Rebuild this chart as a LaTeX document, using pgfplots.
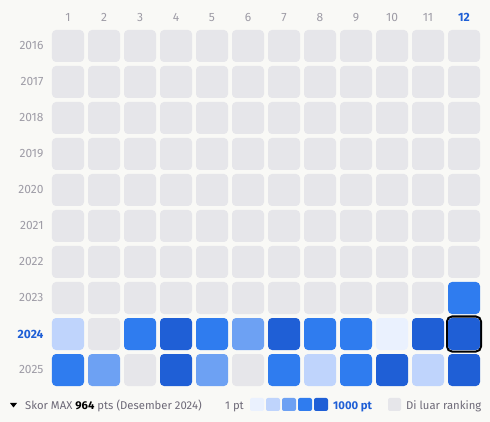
\documentclass[border=0pt]{standalone}
\usepackage{pgfplots}
\pgfplotsset{compat=1.18}
\usepackage{pgfplotstable}
\usepackage{fontspec}
\setmainfont{Fira Sans}
\definecolor{bg}{HTML}{F9F9F6}
\definecolor{cg}{HTML}{E6E6EA}
\definecolor{ca}{HTML}{EAF1FE}
\definecolor{cb}{HTML}{BFD4FC}
\definecolor{cc}{HTML}{6DA1F3}
\definecolor{cd}{HTML}{2F7CEF}
\definecolor{ce}{HTML}{1F5FD6}
\definecolor{tl}{HTML}{9E9CA6}
\definecolor{lg}{HTML}{6E6A78}
\pgfplotstableread{
m y c
1 2016 g
2 2016 g
3 2016 g
4 2016 g
5 2016 g
6 2016 g
7 2016 g
8 2016 g
9 2016 g
10 2016 g
11 2016 g
12 2016 g
1 2017 g
2 2017 g
3 2017 g
4 2017 g
5 2017 g
6 2017 g
7 2017 g
8 2017 g
9 2017 g
10 2017 g
11 2017 g
12 2017 g
1 2018 g
2 2018 g
3 2018 g
4 2018 g
5 2018 g
6 2018 g
7 2018 g
8 2018 g
9 2018 g
10 2018 g
11 2018 g
12 2018 g
1 2019 g
2 2019 g
3 2019 g
4 2019 g
5 2019 g
6 2019 g
7 2019 g
8 2019 g
9 2019 g
10 2019 g
11 2019 g
12 2019 g
1 2020 g
2 2020 g
3 2020 g
4 2020 g
5 2020 g
6 2020 g
7 2020 g
8 2020 g
9 2020 g
10 2020 g
11 2020 g
12 2020 g
1 2021 g
2 2021 g
3 2021 g
4 2021 g
5 2021 g
6 2021 g
7 2021 g
8 2021 g
9 2021 g
10 2021 g
11 2021 g
12 2021 g
1 2022 g
2 2022 g
3 2022 g
4 2022 g
5 2022 g
6 2022 g
7 2022 g
8 2022 g
9 2022 g
10 2022 g
11 2022 g
12 2022 g
1 2023 g
2 2023 g
3 2023 g
4 2023 g
5 2023 g
6 2023 g
7 2023 g
8 2023 g
9 2023 g
10 2023 g
11 2023 g
12 2023 d
1 2024 b
2 2024 g
3 2024 d
4 2024 e
5 2024 d
6 2024 c
7 2024 e
8 2024 d
9 2024 d
10 2024 a
11 2024 e
12 2024 e
1 2025 d
2 2025 c
3 2025 g
4 2025 e
5 2025 c
6 2025 g
7 2025 d
8 2025 b
9 2025 d
10 2025 e
11 2025 b
12 2025 e
}\cells
\tikzset{cell/.style={mark=text, /pgf/text mark={}, /pgf/text mark as node=true,
  /pgf/text mark style={fill=#1, draw=none, rounded corners=4pt, minimum size=32pt, inner sep=0pt, outer sep=0pt, anchor=center}}}
\begin{document}
\begin{tikzpicture}[x=1pt,y=1pt]
\fill[bg] (0,0) rectangle (490,422);
\begin{axis}[at={(50pt,34pt)}, anchor=south west, scale only axis,
  width=432pt, height=360pt,
  xmin=0.5, xmax=12.5, ymin=2015.5, ymax=2025.5, y dir=reverse,
  axis line style={draw=none}, major tick length=0pt,
  xtick={1,...,12}, ytick={2016,...,2025},
  xticklabels={1,2,3,4,5,6,7,8,9,10,11,{\textbf{\color{ce}12}}},
  yticklabels={2016,2017,2018,2019,2020,2021,2022,2023,{\textbf{\color{ce}2024}},2025},
  xticklabel pos=upper,
  xticklabel style={anchor=south, yshift=3pt, font=\fontsize{12}{14}\selectfont, color=tl},
  yticklabel style={anchor=east, xshift=-3pt, font=\fontsize{12}{14}\selectfont, color=tl},
  /pgf/number format/assume math mode=true,
  clip=false]
\addplot[scatter, only marks, point meta=explicit symbolic,
  scatter/classes={g={cell=cg}, a={cell=ca}, b={cell=cb}, c={cell=cc}, d={cell=cd}, e={cell=ce}}]
  table[x=m, y=y, meta=c] {\cells};
\draw[black, line width=2pt, rounded corners=5pt]
  ([shift={(-17pt,-17.5pt)}]axis cs:12,2024) rectangle ([shift={(17pt,17.5pt)}]axis cs:12,2024);
\fill[black] ([shift={(-3.5pt,26pt)}]axis cs:12,2024) -- ([shift={(3.5pt,26pt)}]axis cs:12,2024) -- ([shift={(0pt,22pt)}]axis cs:12,2024) -- cycle;
\end{axis}
\fill[black] (10,19) -- (17,19) -- (13.5,14.5) -- cycle;
\node[anchor=base west, inner sep=0, font=\fontsize{11.3}{13}\selectfont] at (25,12) {\color{lg}Skor MAX \textbf{\color{black}964} pts (Desember 2024)};
\node[anchor=base east, inner sep=0, font=\fontsize{11.3}{13}\selectfont, text=lg] at (244,12) {1 pt};
\fill[ca, rounded corners=2pt] (250,11) rectangle (264,24);
\fill[cb, rounded corners=2pt] (266,11) rectangle (280,24);
\fill[cc, rounded corners=2pt] (282,11) rectangle (296,24);
\fill[cd, rounded corners=2pt] (298,11) rectangle (312,24);
\fill[ce, rounded corners=2pt] (314,11) rectangle (328,24);
\node[anchor=base west, inner sep=0, font=\fontsize{11.3}{13}\selectfont\bfseries, text=ce] at (333,12) {1000 pt};
\fill[cg, rounded corners=2pt] (388,11) rectangle (401,24);
\node[anchor=base west, inner sep=0, font=\fontsize{11.3}{13}\selectfont, text=lg] at (406,12) {Di luar ranking};
\end{tikzpicture}
\end{document}
